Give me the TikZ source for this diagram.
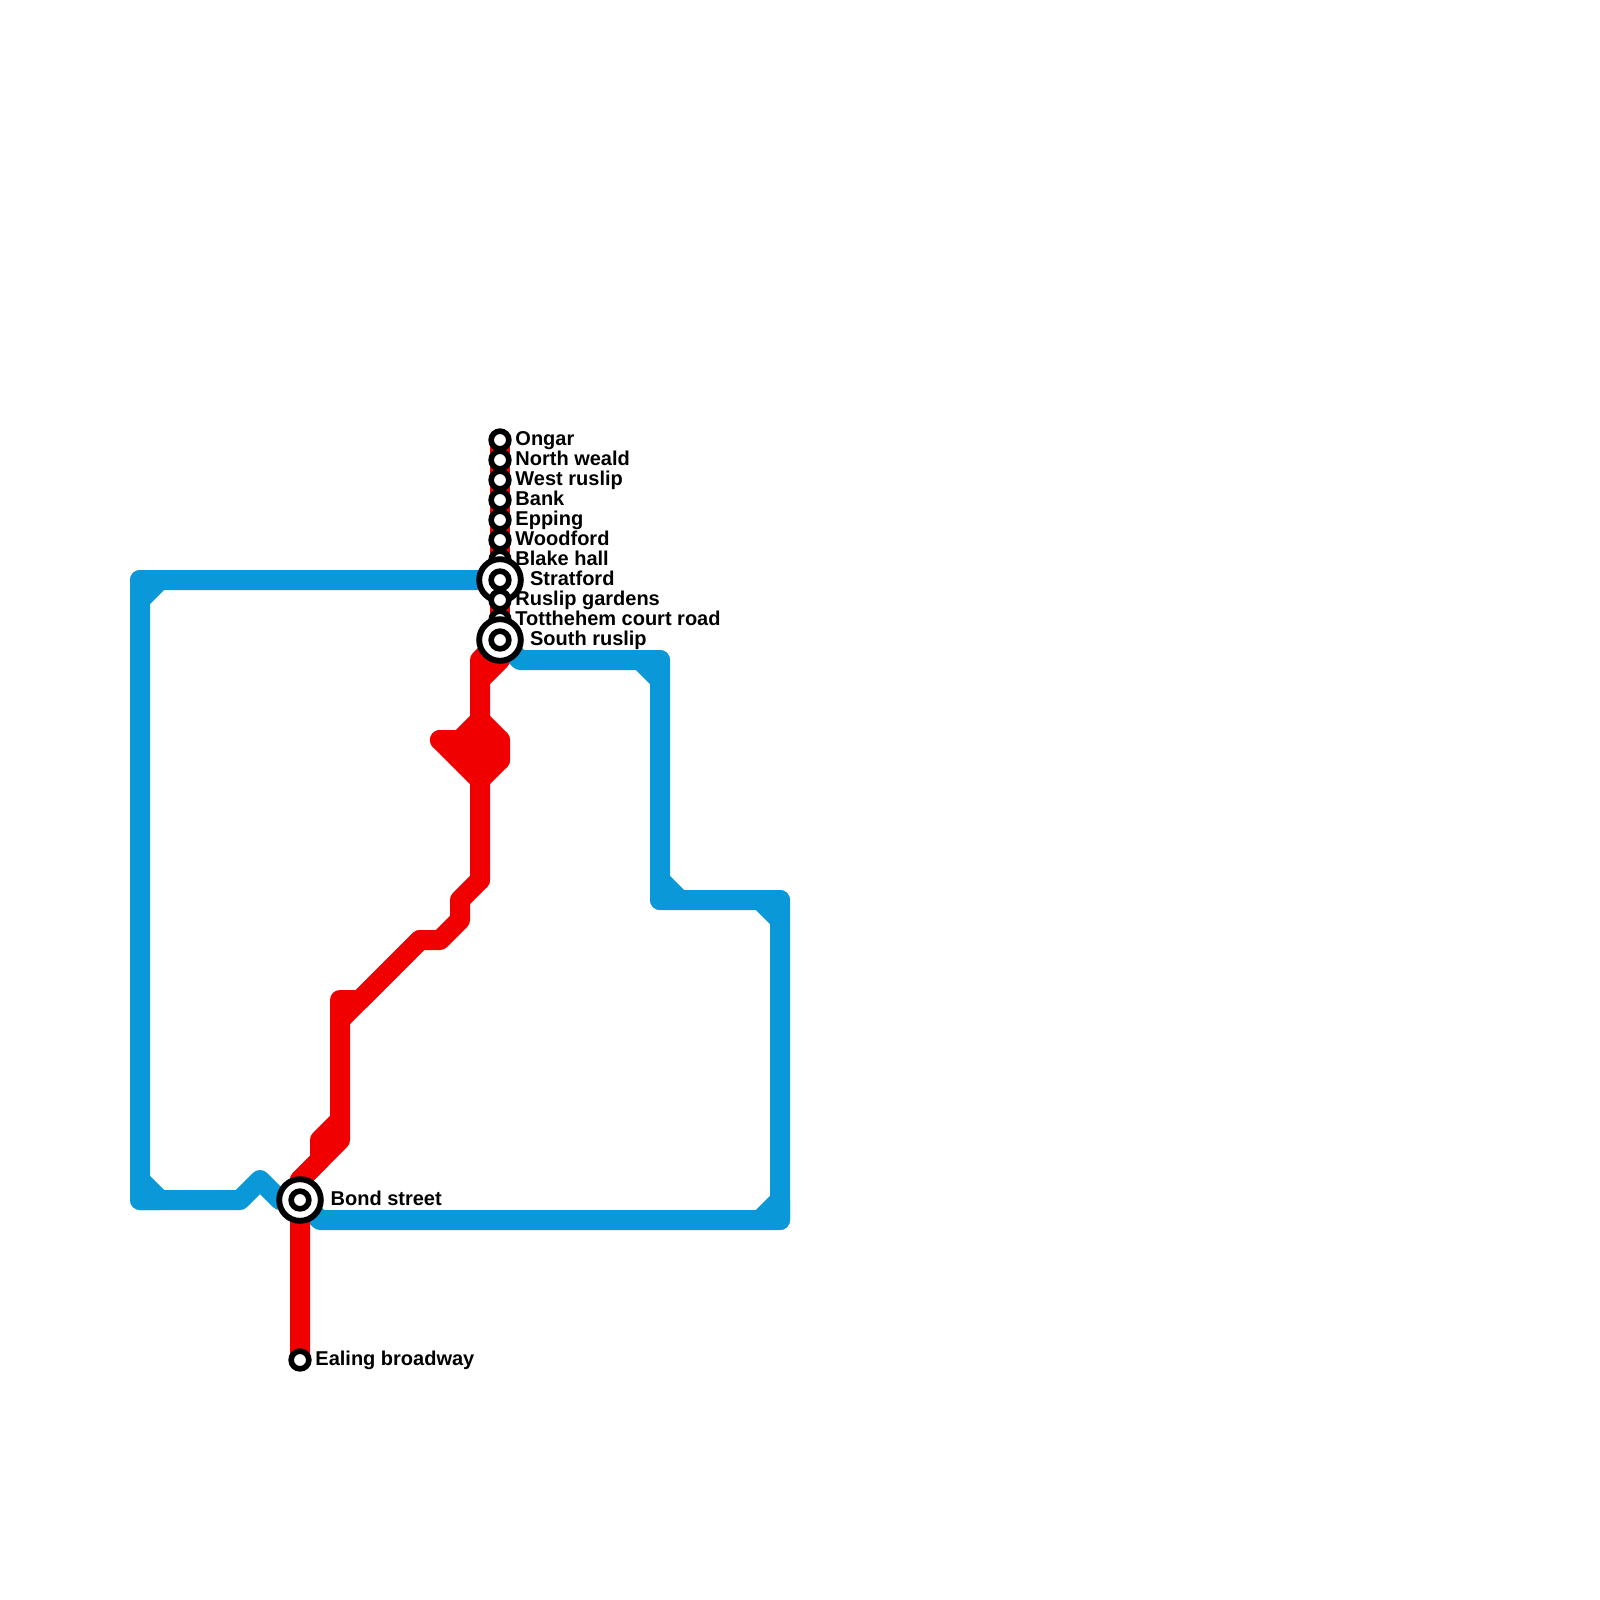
\documentclass[tikz,border=0pt]{standalone}
\usepackage{fontspec}
\setmainfont{Liberation Sans}
\usepackage{xcolor}
\usetikzlibrary{positioning,backgrounds}

\definecolor{tubeblue}{HTML}{0A98D8}
\definecolor{tubered}{HTML}{F00000}

\begin{document}
\begin{tikzpicture}[
  x=0.25cm, y=-0.25cm,
  node distance=1.35pt,
  stop/.style={circle, draw=black, fill=white, line width=2pt, minimum size=6.3pt, inner sep=0pt},
  hub/.style={circle, draw=black, fill=white, line width=2.1pt, minimum size=14.8pt, inner sep=0pt},
  stoptext/.style={inner sep=0pt, outer sep=0pt, text height=5pt, text depth=1.44pt, font=\fontsize{7.11pt}{8pt}\selectfont\bfseries},
  blueline/.style={draw=tubeblue, line width=0.25cm, line join=round, line cap=round},
  redline/.style={draw=tubered, line width=0.25cm, line join=round, line cap=round}
]
  \useasboundingbox (0,0) rectangle (80,80);

  % Stations
  \node[stop] (ongar) at (25,22) {};
  \node[stop] (northweald) at (25,23) {};
  \node[stop] (westruslip) at (25,24) {};
  \node[stop] (bank) at (25,25) {};
  \node[stop] (epping) at (25,26) {};
  \node[stop] (woodford) at (25,27) {};
  \node[stop] (blakehall) at (25,28) {};
  \node[hub] (stratford) at (25,29) {};
  \node[stop] (stratfordin) at (stratford) {};
  \node[stop] (ruslipgardens) at (25,30) {};
  \node[stop] (totthehem) at (25,31) {};
  \node[hub] (southruslip) at (25,32) {};
  \node[stop] (southruslipin) at (southruslip) {};
  \node[hub] (bond) at (15,60) {};
  \node[stop] (bondin) at (bond) {};
  \node[stop] (ealing) at (15,68) {};

  % Labels
  \node[stoptext, right=of ongar] (ongartext) {Ongar};
  \node[stoptext, right=of northweald] (northwealdtext) {North weald};
  \node[stoptext, right=of westruslip] (westrusliptext) {West ruslip};
  \node[stoptext, right=of bank] (banktext) {Bank};
  \node[stoptext, right=of epping] (eppingtext) {Epping};
  \node[stoptext, right=of woodford] (woodfordtext) {Woodford};
  \node[stoptext, right=of blakehall] (blakehalltext) {Blake hall};
  \node[stoptext, right=2.25pt of stratford] (stratfordtext) {Stratford};
  \node[stoptext, right=of ruslipgardens] (ruslipgardenstext) {Ruslip gardens};
  \node[stoptext, right=of totthehem] (totthehemtext) {Totthehem court road};
  \node[stoptext, right=2.25pt of southruslip] (southrusliptext) {South ruslip};
  \node[stoptext, right=2.45pt of bond] (bondtext) {Bond street};
  \node[stoptext, right=of ealing] (ealingtext) {Ealing broadway};

  % Bends of the blue line
  \coordinate (bNW) at (7,29);
  \coordinate (bNWa) at (7,30);
  \coordinate (bNWb) at (8,29);
  \coordinate (bSW) at (7,60);
  \coordinate (bSWa) at (7,59);
  \coordinate (bSWb) at (8,60);
  \coordinate (bA) at (12,60);
  \coordinate (bB) at (13,59);
  \coordinate (bC) at (14,60);
  \coordinate (bD) at (16,61);
  \coordinate (bSE) at (39,61);
  \coordinate (bSEa) at (38,61);
  \coordinate (bSEb) at (39,60);
  \coordinate (bE) at (39,45);
  \coordinate (bEa) at (38,45);
  \coordinate (bEb) at (39,46);
  \coordinate (bF) at (33,45);
  \coordinate (bFa) at (33,44);
  \coordinate (bFb) at (34,45);
  \coordinate (bG) at (33,33);
  \coordinate (bGa) at (32,33);
  \coordinate (bGb) at (33,34);
  \coordinate (bH) at (26,33);

  % Bends of the red line
  \coordinate (rA) at (15,59);
  \coordinate (rB) at (16,58);
  \coordinate (rC) at (16,57);
  \coordinate (rD) at (17,56);
  \coordinate (rE) at (17,57);
  \coordinate (rF) at (17,51);
  \coordinate (rG) at (17,50);
  \coordinate (rH) at (18,50);
  \coordinate (rI) at (21,47);
  \coordinate (rJ) at (22,47);
  \coordinate (rK) at (23,46);
  \coordinate (rL) at (23,45);
  \coordinate (rM) at (24,44);
  \coordinate (rN) at (24,39);
  \coordinate (rO) at (25,38);
  \coordinate (rP) at (25,37);
  \coordinate (rQ) at (24,36);
  \coordinate (rR) at (23,37);
  \coordinate (rS) at (22,37);
  \coordinate (rT) at (24,34);
  \coordinate (rU) at (24,33);
  \coordinate (rV) at (25,33);

  % Lines
  \begin{scope}[on background layer]
    \draw[blueline] (stratford.center) -- (bNWb) -- (bNW) -- (bNWa) -- (bNWb);
    \draw[blueline] (bNW) -- (bSW) -- (bSWb) -- (bSWa);
    \draw[blueline] (bSW) -- (bA) -- (bB) -- (bC) -- (bond.center) -- (bD) -- (bSE) -- (bSEb) -- (bSEa);
    \draw[blueline] (bSE) -- (bE) -- (bEa) -- (bEb);
    \draw[blueline] (bE) -- (bF) -- (bFb) -- (bFa);
    \draw[blueline] (bF) -- (bG) -- (bGb) -- (bGa);
    \draw[blueline] (bG) -- (bH) -- (southruslip.center);

    \draw[redline] (ongar.center) -- (southruslip.center);
    \draw[redline] (ealing.center) -- (rA) -- (rB) -- (rC) -- (rD);
    \draw[redline] (rA) -- (rE) -- (rF) -- (rG) -- (rH) -- (rI) -- (rJ) -- (rK) -- (rL) -- (rM);
    \draw[redline] (rF) -- (rI);
    \draw[redline] (rM) -- (rT) -- (rU) -- (southruslip.center) -- (rV) -- (rT);
    \draw[redline] (rN) -- (rS) -- (rR) -- (rQ) -- (rP) -- (rO) -- (rN);
    \draw[redline] (rR) -- (rP);
    \draw[redline] (rO) -- (rS);
  \end{scope}

\end{tikzpicture}
\end{document}
